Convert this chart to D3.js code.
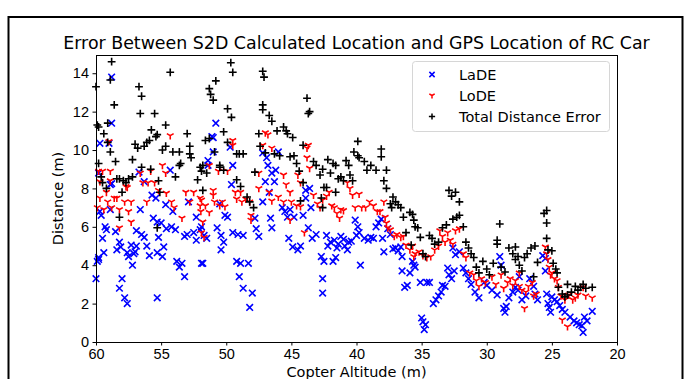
<!DOCTYPE html>
<html>
<head>
<meta charset="utf-8">
<script src="https://cdnjs.cloudflare.com/ajax/libs/d3/7.8.5/d3.min.js"></script>
<style>
  html, body { margin: 0; padding: 0; background: #fff; }
  svg { display: block; font-family: "DejaVu Sans", sans-serif; }
</style>
</head>
<body>
<div id="chart"></div>
<script>
// [altitude (m), distance (m)]
const lade = [
  [60,3.3],[59.9,4.2],[59.8,4.4],[59.8,8.8],[59.7,10.35],[59.7,6.8],[59.6,6.6],[59.5,5.4],[59.4,4.65],[59.8,4.3],[59.3,6.0],[59.2,5.85],[59.0,10.35],[58.9,6.9],[58.9,8.2],[58.8,8.25],[58.8,13.8],[58.8,11.4],[58.5,5.75],[58.4,4.8],[58.2,5.2],[58.1,4.95],[58.2,2.8],[58.0,3.3],[57.8,2.3],[57.6,2.0],[57.6,4.65],[57.5,4.45],[57.3,5.05],[57.2,4.0],[57.1,4.6],[57.0,4.7],[56.9,5.0],[56.9,5.8],[56.7,8.85],[56.6,6.9],[56.5,5.6],[56.3,8.35],[56.3,5.45],[56.1,5.0],[55.9,4.5],[55.7,7.65],[55.6,6.45],[55.4,7.5],[55.3,6.25],[55.3,2.3],[55.3,4.65],[55.2,5.45],[55.0,6.2],[54.9,4.45],[54.8,4.95],[54.65,7.15],[54.6,5.9],[54.3,8.95],[54.2,6.0],[54.1,6.8],[53.9,5.85],[53.8,4.2],[53.6,3.9],[53.4,4.1],[53.2,3.4],[53.2,5.5],[53.0,5.6],[52.9,7.3],[52.5,5.7],[52.3,6.5],[52.3,5.3],[52.0,5.85],[51.9,4.1],
  [51.9,6.0],[51.8,4.1],[51.7,5.55],[51.5,5.4],[51.4,9.45],[51.4,9.2],[51.1,10.7],[51.0,10.65],[51.0,9.9],[50.8,11.4],[50.7,5.95],[50.5,7.2],[50.4,4.8],[50.4,5.55],[50.2,5.2],[50.1,6.6],[49.9,6.5],[49.7,10.15],[49.6,8.2],[49.5,9.2],[49.5,5.7],[49.2,4.2],[49.1,5.6],[49.0,3.4],[48.9,4.1],[48.7,5.55],[48.7,2.8],[48.3,4.1],[48.2,1.8],[48.0,2.55],[47.8,6.45],[47.7,5.9],[47.5,5.5],[47.2,9.85],[47.2,7.3],[47.0,8.35],[46.9,9.6],[46.8,9.2],[46.7,7.8],[46.6,6.45],[46.5,5.95],[46.5,8.8],[46.3,8.35],[46.2,8.95],[46.0,9.9],[45.7,7.0],[45.5,6.8],[45.3,6.5],[45.2,5.4],[45.1,6.9],[44.9,4.95],[44.8,6.5],[44.5,4.8],[44.3,5.0],[44.1,6.6],[43.9,7.9],[43.9,7.5],
  [43.7,5.95],[43.6,8.0],[43.5,7.0],[43.4,5.4],[43.1,5.6],[42.7,4.45],[42.6,3.3],[42.6,2.55],[42.5,4.2],[42.3,5.55],[42.2,5.0],[42.0,5.2],[41.8,4.2],[41.7,5.3],[41.6,4.4],[41.5,4.9],[41.4,5.1],[41.2,5.5],[41.0,5.35],[40.9,5.0],[40.7,4.8],[40.6,5.2],[40.4,5.25],[40.1,6.35],[40.0,5.55],[39.9,6.0],[39.8,5.7],[39.7,4.0],[39.4,5.4],[39.1,5.3],[38.9,5.45],[38.7,5.4],[38.5,6.0],[38.3,6.2],[38.1,6.4],[38.0,5.4],[37.9,4.7],[37.6,5.9],[37.4,5.6],[37.2,4.85],[37.0,4.9],[36.8,4.75],[36.6,4.95],[36.5,4.45],[36.5,3.7],[36.3,2.85],[36.1,2.95],[35.9,3.6],[35.6,4.0],
  [35.7,4.2],[35.5,3.9],[35.1,3.1],[35.0,1.25],[34.9,1.05],[34.8,0.65],[34.7,0.9],[34.6,3.1],[34.4,3.1],[34.1,2.0],[33.9,2.2],[33.7,2.4],[33.5,2.6],[33.4,2.95],[33.2,2.9],[33.0,3.85],[32.9,3.5],[32.7,3.3],[32.6,4.9],[32.5,3.7],[32.4,4.55],[32.1,4.7],[31.8,3.85],[31.6,3.6],[31.4,3.3],[31.2,3.0],[30.9,2.6],[30.6,2.3],[30.2,3.1],[30.0,2.95],[29.6,2.7],[29.2,2.45],[29.0,4.45],[28.9,4.0],[28.7,1.75],[28.6,1.55],[28.5,1.85],[28.3,2.3],[28.0,2.6],[27.8,2.85],[27.5,3.4],
  [27.6,2.7],[27.3,2.2],[27.0,2.4],[26.7,3.3],[26.4,2.9],[26.3,2.5],[26.1,2.2],[25.7,4.5],[25.5,4.35],[25.5,3.7],[25.4,2.5],[25.3,2.0],[25.2,1.8],[25.1,1.55],[25.0,2.35],[24.8,2.2],[24.6,2.1],[24.4,1.9],[24.2,1.7],[24.0,1.55],[23.6,1.3],[23.3,1.1],[23.1,1.0],[22.9,0.9],[22.7,0.85],[22.6,0.5],[22.5,1.3],[22.3,1.1],[21.9,1.6]
];

const lode = [
  [59.9,7.0],[59.8,8.9],[59.7,8.35],[59.7,7.5],[59.5,8.9],[59.4,6.9],[59.2,7.8],[59.1,7.3],[59.0,10.45],[58.9,8.9],[58.9,8.4],[58.8,7.0],[58.6,7.5],[58.4,7.5],[58.2,6.9],[58.2,5.95],[57.8,7.3],[57.7,8.1],[57.6,8.05],[57.5,6.8],[57.3,7.3],[57.3,6.25],[56.6,8.8],[56.4,8.3],[56.1,7.3],[56.0,8.3],[55.8,8.9],[55.5,8.3],[55.2,7.9],[54.9,9.2],[54.65,8.8],[54.6,7.75],[54.3,10.75],[54.2,7.3],[54.0,7.0],[53.4,6.45],[53.1,7.8],[52.8,7.3],[52.5,7.8],[52.0,7.5],[52.0,7.1],[51.95,6.8],[51.9,5.7],
  [51.9,7.4],[51.8,6.25],[51.7,5.45],[51.6,7.1],[51.3,9.2],[51.3,6.75],[51.0,7.9],[51.0,7.65],[50.9,7.3],[50.6,8.9],[50.5,7.1],[50.3,7.3],[50.1,7.05],[49.9,8.9],[49.5,10.5],[49.5,10.25],[49.3,7.8],[49.2,7.45],[48.9,7.8],[48.8,7.3],[48.5,7.45],[48.2,7.3],[48.1,6.6],[48.1,6.35],[47.5,8.8],[47.5,8.0],[47.2,10.25],[47.0,10.9],[46.8,10.8],[46.7,7.8],[46.5,10.1],[46.5,7.35],[46.0,7.55],[45.6,8.7],[45.6,7.3],[45.4,8.2],[45.1,7.8],[45.1,6.35],[45.0,7.3],[44.6,7.1],[44.5,8.7],[44.3,8.3],[44.3,7.05],[44.0,5.7],
  [43.8,10.1],[43.8,9.6],[43.7,10.25],[43.6,9.05],[43.3,7.65],[43.0,7.2],[42.8,7.0],[42.6,7.4],[42.3,7.6],[42.1,7.8],[41.9,7.1],[41.7,7.0],[41.5,6.7],[41.3,6.45],[41.2,6.9],[41.0,6.85],[40.7,8.3],[40.5,8.0],[40.3,7.65],[40.1,7.0],[39.8,7.7],[39.6,7.0],[39.3,7.0],[39.0,7.3],[38.7,7.1],[38.4,6.8],[38.2,6.8],[37.9,7.3],[37.8,6.5],[37.7,6.2],[37.6,5.95],[37.4,5.85],[37.1,5.5],[36.9,5.6],[36.6,5.45],[36.4,5.5],[36.2,5.05],[35.9,4.8],[35.6,4.45],
  [35.7,5.0],[35.5,4.6],[35.2,4.7],[34.9,4.5],[34.6,4.4],[34.3,4.45],[34.0,4.8],[33.7,5.0],[33.6,5.8],[33.4,5.5],[33.2,5.2],[33.0,5.7],[32.8,5.3],[32.6,5.1],[32.4,5.8],[32.1,5.9],[31.8,4.6],[31.6,4.4],[31.3,3.6],[31.0,3.5],[30.8,3.2],[30.6,2.9],[30.4,3.3],[30.1,3.1],[29.6,3.4],[29.3,3.0],[28.9,3.5],[28.7,2.8],[28.4,3.1],[28.2,3.3],[28.0,2.95],[27.5,3.6],
  [27.8,3.2],[27.5,2.9],[27.3,2.7],[27.0,2.6],[26.8,2.9],[26.5,3.1],[26.4,2.4],[26.2,2.5],[27.1,1.75],[25.5,4.95],[25.4,4.6],[25.3,4.3],[25.2,3.9],[25.1,3.5],[25.0,3.6],[24.8,3.3],[24.6,3.2],[24.5,2.85],[24.3,2.4],[24.2,1.15],[24.0,2.2],[23.8,0.8],[23.7,2.45],[23.4,2.2],[23.2,2.3],[23.0,2.45],[22.6,2.85],[22.4,2.4],[21.9,2.3]
];

const total = [
  [60,13.3],[59.9,11.3],[59.8,11.2],[59.8,9.3],[59.6,8.6],[59.5,8.3],[59.4,10.85],[59.2,8.0],[59.1,11.4],[59.1,10.4],[58.9,9.9],[58.9,13.65],[58.8,14.6],[58.6,12.35],[58.5,9.4],[58.4,8.5],[58.2,8.5],[58.2,6.5],[58.0,7.8],[57.9,8.4],[57.7,8.3],[57.5,8.5],[57.2,9.5],[57.2,8.6],[57.0,10.3],[56.8,10.1],[56.7,13.3],[56.6,11.9],[56.5,12.8],[56.5,9.1],[56.3,10.2],[56.1,10.4],[55.9,10.5],[55.8,9.0],[55.75,11.05],[55.5,11.9],[55.4,10.7],[55.3,10.8],[55.3,5.95],[55.2,8.4],[55.1,7.8],[54.9,10.0],[54.65,11.3],[54.65,10.2],[54.3,14.05],[54.1,9.9],[53.9,8.6],[53.6,9.9],[53.6,9.2],[53.5,9.3],[53.0,10.85],[52.8,10.2],[52.8,9.8],[52.7,9.6],[52.2,8.45],[52.0,9.1],[51.9,8.9],
  [51.8,9.2],[51.8,7.9],[51.6,10.5],[51.5,8.8],[51.3,10.6],[51.3,13.2],[51.2,12.9],[51.0,12.6],[50.9,9.9],[50.8,13.6],[50.5,9.2],[50.5,9.1],[50.2,10.95],[50.2,8.95],[49.9,12.15],[49.9,10.4],[49.65,14.55],[49.6,11.7],[49.5,14.05],[49.2,9.8],[49.2,8.45],[49.0,9.8],[48.9,8.1],[48.7,9.8],[48.4,7.55],[48.2,7.3],[47.9,7.0],[47.8,8.85],[47.5,10.85],[47.4,10.2],[47.2,14.1],[47.1,13.8],[47.2,12.35],[47.2,12.1],[47.0,9.85],[46.7,11.8],[46.5,11.5],[46.3,9.8],[46.1,11.0],[45.9,9.7],[45.6,11.2],[45.4,11.0],[45.3,10.85],[45.1,9.65],[44.9,10.65],[44.8,9.7],[44.6,9.3],[44.4,8.9],[44.3,7.35],[44.1,10.25],[44.1,8.3],[43.8,12.7],[43.7,11.9],[43.6,12.0],
  [43.3,9.4],[43.1,9.2],[42.8,8.7],[42.6,9.0],[42.5,8.05],[42.3,8.05],[42.7,7.5],[42.6,7.0],[42.2,9.5],[42.0,8.8],[41.8,9.3],[41.6,9.2],[41.6,7.8],[41.4,8.5],[41.2,8.6],[41.0,8.4],[40.8,9.45],[40.6,9.2],[40.5,8.7],[40.3,8.4],[40.2,9.9],[39.9,10.45],[39.9,9.7],[39.8,9.6],[39.4,9.4],[39.2,8.95],[38.9,9.2],[38.5,8.95],[38.1,10.05],[38.1,9.65],[37.9,8.4],[37.7,8.0],[37.7,8.95],[37.4,7.2],[37.2,7.55],[37.3,7.0],[37.0,7.3],[36.8,7.15],[36.6,7.0],[36.4,6.5],[36.2,5.7],[35.9,6.75],[35.8,5.05],[35.6,6.35],
  [35.7,6.65],[35.5,6.0],[35.3,5.95],[35.1,5.45],[34.9,4.6],[34.7,4.45],[34.4,5.55],[34.2,5.4],[34.0,5.1],[33.7,5.2],[33.4,5.95],[33.1,6.1],[32.9,7.9],[32.7,7.6],[32.6,6.4],[32.4,7.8],[32.3,6.5],[32.1,7.3],[32.1,6.6],[31.8,6.0],[31.6,5.2],[31.4,4.9],[31.2,4.6],[31.0,4.4],[30.8,3.9],[30.6,3.6],[30.3,4.2],[30.0,3.8],[29.8,3.5],[29.5,4.1],[29.2,5.3],[29.2,5.1],[29.0,6.15],[28.9,3.9],[28.6,3.65],[28.3,4.9],[28.0,4.6],[27.8,4.3],[27.5,4.0],
  [27.8,4.95],[27.6,4.45],[27.3,3.7],[27.1,4.4],[26.9,4.6],[26.6,4.9],[26.4,3.4],[26.3,5.0],[26.1,4.15],[25.6,6.7],[25.4,6.85],[25.4,6.2],[25.4,5.4],[25.3,4.8],[25.0,4.75],[24.9,4.1],[24.7,3.8],[24.6,3.6],[24.5,2.85],[24.2,2.5],[24.0,2.35],[23.8,2.45],[23.8,3.0],[23.5,2.6],[23.2,2.9],[23.0,2.7],[22.8,2.85],[22.6,3.0],[22.4,2.8],[21.9,2.85]
];

const xTicks = [60, 55, 50, 45, 40, 35, 30, 25, 20];
const yTicks = [0, 2, 4, 6, 8, 10, 12, 14];
const seriesNames = ["LaDE", "LoDE", "Total Distance Error"];

const W = 691, H = 379;
const margin = {top: 55, right: 74, bottom: 37, left: 96};
const width = W - margin.left - margin.right;
const height = H - margin.top - margin.bottom;

const svg = d3.select("#chart").append("svg")
  .attr("width", W)
  .attr("height", H);

// outer frame
svg.append("rect")
  .attr("x", 8.5).attr("y", 17)
  .attr("width", 674).attr("height", 420)
  .attr("fill", "none")
  .attr("stroke", "#000")
  .attr("stroke-width", 2);

const g = svg.append("g").attr("transform", `translate(${margin.left},${margin.top})`);

const x = d3.scaleLinear().domain([60, 20]).range([0, width]);
const y = d3.scaleLinear().domain([0, 14.95]).range([height, 0]);

// marker shapes, matplotlib style
const markers = {
  x: s => `M${-s},${-s}L${s},${s}M${-s},${s}L${s},${-s}`,
  tri: s => `M0,0L0,${s}M0,0L${-s * 0.866},${-s * 0.5}M0,0L${s * 0.866},${-s * 0.5}`,
  plus: s => `M${-s},0H${s}M0,${-s}V${s}`
};

const series = [
  {name: seriesNames[0], data: lade, color: "#0000ff", shape: markers.x, size: 3.3},
  {name: seriesNames[1], data: lode, color: "#ff0000", shape: markers.tri, size: 3.9},
  {name: seriesNames[2], data: total, color: "#000000", shape: markers.plus, size: 3.9}
];

const plot = g.append("g");
series.forEach(s => {
  plot.append("g").selectAll("path")
    .data(s.data)
    .enter().append("path")
    .attr("transform", d => `translate(${x(d[0])},${y(d[1])})`)
    .attr("d", s.shape(s.size))
    .attr("fill", "none")
    .attr("stroke", s.color)
    .attr("stroke-width", 1.6);
});

// axes
const xAxis = g.append("g")
  .attr("transform", `translate(0,${height})`)
  .call(d3.axisBottom(x).tickValues(xTicks).tickSize(3.5).tickPadding(3.5).tickFormat(d3.format("d")));
const yAxis = g.append("g")
  .call(d3.axisLeft(y).tickValues(yTicks).tickSize(3.5).tickPadding(3.5).tickFormat(d3.format("d")));
[xAxis, yAxis].forEach(a => {
  a.selectAll("text").style("font-size", "14.5px").attr("fill", "#000");
  a.selectAll("line").attr("stroke", "#000");
  a.select(".domain").remove();
});

// spines
g.append("rect")
  .attr("x", 0.5).attr("y", 0.5)
  .attr("width", width).attr("height", height)
  .attr("fill", "none")
  .attr("stroke", "#000")
  .attr("stroke-width", 1);

// title and axis labels
svg.append("text")
  .attr("x", margin.left + width / 2)
  .attr("y", 49)
  .attr("text-anchor", "middle")
  .style("font-size", "17.4px")
  .text("Error Between S2D Calculated Location and GPS Location of RC Car");

svg.append("text")
  .attr("x", margin.left + width / 2)
  .attr("y", 377)
  .attr("text-anchor", "middle")
  .style("font-size", "14.5px")
  .text("Copter Altitude (m)");

svg.append("text")
  .attr("transform", `translate(63,${margin.top + height / 2}) rotate(-90)`)
  .attr("text-anchor", "middle")
  .style("font-size", "14.5px")
  .text("Distance (m)");

// legend
const legend = svg.append("g").attr("transform", "translate(412,61)");
legend.append("rect")
  .attr("x", 0.5).attr("y", 0.5)
  .attr("width", 197).attr("height", 70)
  .attr("rx", 3)
  .attr("fill", "#fff")
  .attr("fill-opacity", 0.8)
  .attr("stroke", "#d6d6d6");
series.forEach((s, i) => {
  const row = legend.append("g").attr("transform", `translate(0,${13.5 + i * 21})`);
  row.append("path")
    .attr("transform", "translate(20,0)")
    .attr("d", s.shape(s.size * 0.8))
    .attr("fill", "none")
    .attr("stroke", s.color)
    .attr("stroke-width", 1.5);
  row.append("text")
    .attr("x", 47)
    .attr("y", 5.5)
    .style("font-size", "14.5px")
    .text(s.name);
});
</script>
</body>
</html>
